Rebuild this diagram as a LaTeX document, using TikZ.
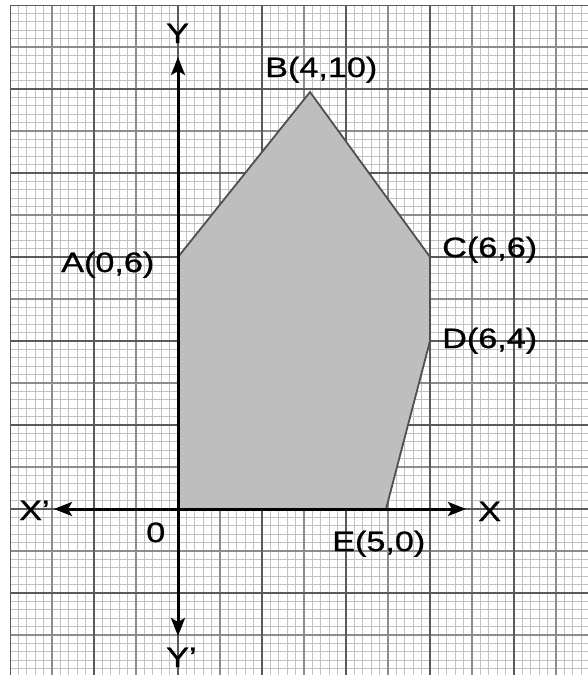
\documentclass[tikz,border=0pt]{standalone}
\usepackage{fontspec}
\setmainfont{Liberation Sans}
\newfontfamily\lblfont[FakeBold=0.8]{Liberation Sans}
\usetikzlibrary{arrows.meta}
\definecolor{minorc}{HTML}{C2C2C2}
\definecolor{medc}{HTML}{8C8C8C}
\definecolor{strongc}{HTML}{5A5A5A}
\definecolor{regionc}{HTML}{BEBEBE}
\definecolor{edgec}{HTML}{505050}
\tikzset{
  minorgrid/.style={draw=minorc, line width=1.1pt},
  medgrid/.style={draw=medc, line width=1.6pt},
  stronggrid/.style={draw=strongc, line width=2.4pt},
  axisline/.style={draw=black, line width=3pt, -{Stealth[length=18pt,width=14pt,inset=4pt]}},
  region/.style={fill=regionc, draw=edgec, line width=1.8pt, line join=miter},
  lbl/.style={font=\lblfont\fontsize{28}{30}\selectfont, inner sep=0pt, anchor=base west, xscale=1.22, text=black},
}
\begin{document}
\begin{tikzpicture}[x=1pt, y=-1pt]
\useasboundingbox (0,0) rectangle (588,675);
\fill[white] (0,0) rectangle (588,675);
% graph paper
\begin{scope}
  \clip (10,5) rectangle (588,675);
  \foreach \i in {0,...,69} {
    \draw[minorgrid] ({10+8.4*\i},5) -- ({10+8.4*\i},675);
  }
  \foreach \j in {0,...,80} {
    \draw[minorgrid] (10,{5+8.4*\j}) -- (588,{5+8.4*\j});
  }
  \foreach \i in {0,...,13} {
    \draw[medgrid] ({10+42*\i},5) -- ({10+42*\i},675);
  }
  \foreach \j in {0,...,16} {
    \draw[medgrid] (10,{5+42*\j}) -- (588,{5+42*\j});
  }
  \foreach \i in {0,...,6} {
    \draw[stronggrid] ({10+84*\i},5) -- ({10+84*\i},675);
  }
  \foreach \j in {0,...,8} {
    \draw[stronggrid] (10,{5+84*\j}) -- (588,{5+84*\j});
  }
\end{scope}
% vertices
\coordinate (O) at (178,509);
\coordinate (A) at (178,257);
\coordinate (B) at (310,92);
\coordinate (C) at (430,257);
\coordinate (D) at (430,341);
\coordinate (E) at (386,509);
% feasible region
\draw[region] (O) -- (A) -- (B) -- (C) -- (D) -- (E) -- cycle;
% axes
\coordinate (xl) at (54,509);
\coordinate (xr) at (466,509);
\coordinate (yt) at (178,57);
\coordinate (yb) at (178,636);
\draw[axisline] (O) -- (xl);
\draw[axisline] (O) -- (xr);
\draw[axisline] (O) -- (yt);
\draw[axisline] (O) -- (yb);
% labels
\node[lbl] (lY) at (166,43) {Y};
\node[lbl] (lYp) at (166,667) {Y\textquoteright};
\node[lbl] (lX) at (478,521) {X};
\node[lbl] (lXp) at (19,520) {X\textquoteright};
\node[lbl] (l0) at (146,542) {0};
\node[lbl] (lA) at (61,272) {A(0,6)};
\node[lbl] (lB) at (265,77) {B(4,10)};
\node[lbl] (lC) at (442,257) {C(6,6)};
\node[lbl] (lD) at (442,348) {D(6,4)};
\node[lbl] (lE) at (332,551) {E(5,0)};
\end{tikzpicture}
\end{document}
